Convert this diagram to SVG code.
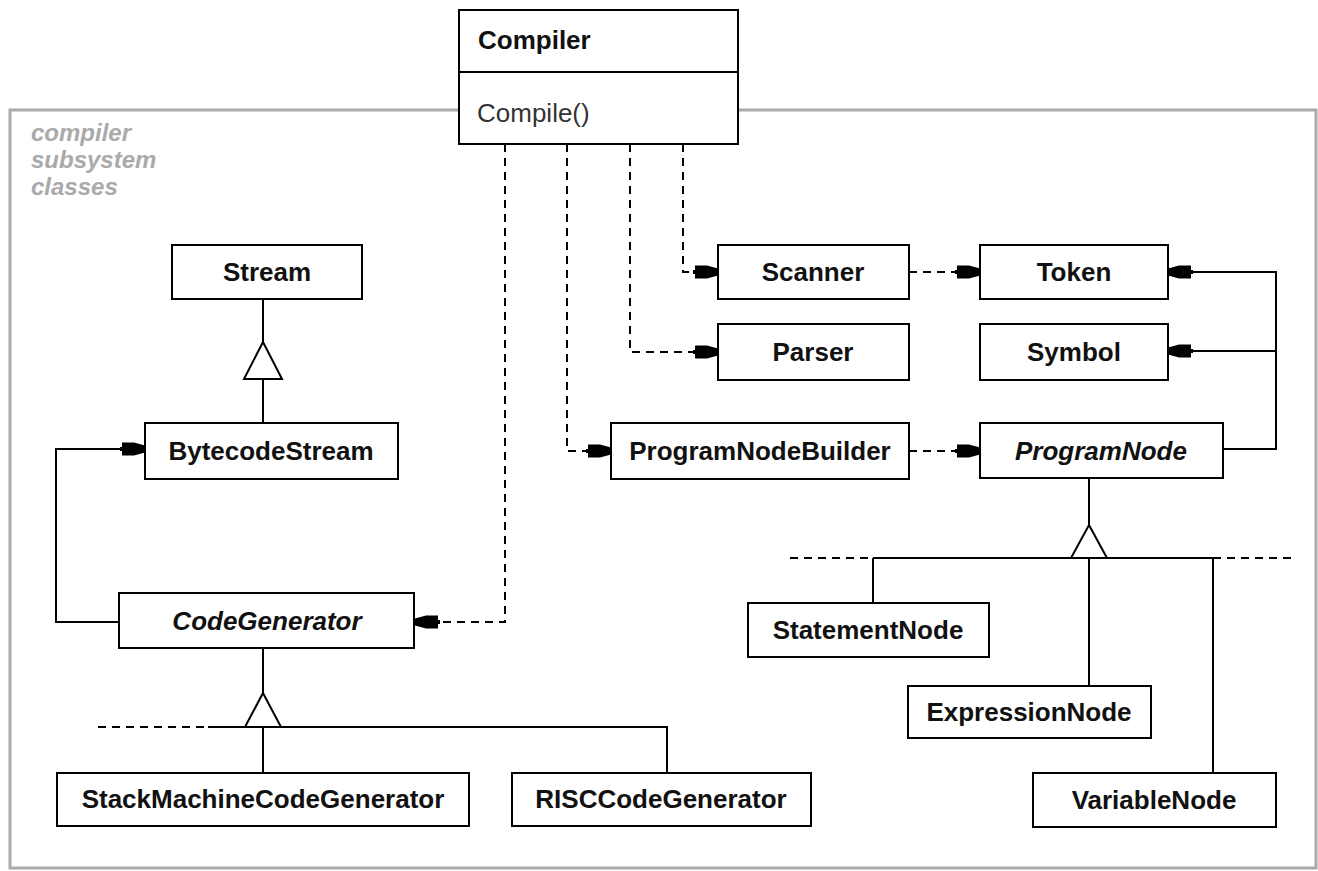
<svg xmlns="http://www.w3.org/2000/svg" width="1318" height="871" viewBox="0 0 1318 871">
<style>
.box{fill:#fff;stroke:#000;stroke-width:2}
.lbl{font-family:"Liberation Sans",Arial,sans-serif;font-size:26px;font-weight:bold;fill:#111;text-anchor:middle}
.abs{font-style:italic}
.ln{fill:none;stroke:#000;stroke-width:2}
.dash{fill:none;stroke:#000;stroke-width:2;stroke-dasharray:8 6}
.tri{fill:#fff;stroke:#000;stroke-width:2}
.note{font-family:"Liberation Sans",Arial,sans-serif;font-size:24px;font-weight:bold;font-style:italic;fill:#aaa}
</style>
<defs>
<marker id="assoc" markerUnits="userSpaceOnUse" viewBox="-26 -8 27 16" markerWidth="27" markerHeight="16" refX="0" refY="0" orient="auto">
<path d="M0,-3.5 L-11,-6.5 L-23,-6.5 L-23,-2 L-25,-2 L-25,2 L-23,2 L-23,6.5 L-11,6.5 L0,3.5 Z" fill="#000"/>
</marker>
</defs>
<rect x="0" y="0" width="1318" height="871" fill="#fff"/>
<g id="subsystem-frame">
<rect x="10" y="110" width="1306" height="758" fill="none" stroke="#aaa" stroke-width="3"/>
<text class="note" x="31" y="141">compiler</text>
<text class="note" x="31" y="168">subsystem</text>
<text class="note" x="31" y="195">classes</text>
</g>
<g id="connectors">
<path class="dash" d="M683,144 V272 H718" marker-end="url(#assoc)"/>
<path class="dash" d="M630,144 V352 H718" marker-end="url(#assoc)"/>
<path class="dash" d="M567,144 V451 H611" marker-end="url(#assoc)"/>
<path class="dash" d="M505,144 V622 H415" marker-end="url(#assoc)"/>
<path class="dash" d="M909,272 H980" marker-end="url(#assoc)"/>
<path class="dash" d="M909,451 H980" marker-end="url(#assoc)"/>
<path class="ln" d="M1223,449 H1276 V272 H1168" marker-end="url(#assoc)"/>
<path class="ln" d="M1276,351 H1168" marker-end="url(#assoc)"/>
<path class="ln" d="M119,622 H56 V449 H145" marker-end="url(#assoc)"/>
<path class="ln" d="M263,299 V342 M263,379 V423"/>
<path class="ln" d="M263,648 V693 M208,727 H667 V773 M263,727 V773"/>
<path class="dash" d="M98,727 H208"/>
<path class="ln" d="M1089,478 V525 M873,558 H1213 M873,558 V603 M1089,558 V686 M1213,558 V773"/>
<path class="dash" d="M790,558 H873 M1213,558 H1297"/>
<polygon class="tri" points="263,342 282,379 244,379"/>
<polygon class="tri" points="263,693 281,727 245,727"/>
<polygon class="tri" points="1089,525 1107,558 1071,558"/>
</g>
<g id="Compiler">
<rect class="box" x="459" y="10" width="279" height="134"/>
<line x1="459" y1="72" x2="738" y2="72" stroke="#000" stroke-width="2"/>
<text class="lbl" x="478" y="49" style="text-anchor:start">Compiler</text>
<text x="477" y="122" font-family="Liberation Sans, Arial, sans-serif" font-size="26" fill="#333">Compile()</text>
</g>
<g id="Stream"><rect class="box" x="172" y="245" width="190" height="54"/><text class="lbl" x="267" y="281">Stream</text></g>
<g id="BytecodeStream"><rect class="box" x="145" y="423" width="253" height="56"/><text class="lbl" x="271" y="460">BytecodeStream</text></g>
<g id="CodeGenerator"><rect class="box" x="119" y="593" width="295" height="55"/><text class="lbl abs" x="267" y="630">CodeGenerator</text></g>
<g id="StackMachineCodeGenerator"><rect class="box" x="57" y="773" width="412" height="53"/><text class="lbl" x="263" y="808">StackMachineCodeGenerator</text></g>
<g id="RISCCodeGenerator"><rect class="box" x="512" y="773" width="299" height="53"/><text class="lbl" x="661" y="808">RISCCodeGenerator</text></g>
<g id="Scanner"><rect class="box" x="718" y="245" width="191" height="54"/><text class="lbl" x="813" y="281">Scanner</text></g>
<g id="Parser"><rect class="box" x="718" y="324" width="191" height="56"/><text class="lbl" x="813" y="361">Parser</text></g>
<g id="ProgramNodeBuilder"><rect class="box" x="611" y="423" width="298" height="56"/><text class="lbl" x="760" y="460">ProgramNodeBuilder</text></g>
<g id="Token"><rect class="box" x="980" y="245" width="188" height="54"/><text class="lbl" x="1074" y="281">Token</text></g>
<g id="Symbol"><rect class="box" x="980" y="324" width="188" height="56"/><text class="lbl" x="1074" y="361">Symbol</text></g>
<g id="ProgramNode"><rect class="box" x="980" y="423" width="243" height="55"/><text class="lbl abs" x="1101" y="460">ProgramNode</text></g>
<g id="StatementNode"><rect class="box" x="748" y="603" width="241" height="54"/><text class="lbl" x="868" y="639">StatementNode</text></g>
<g id="ExpressionNode"><rect class="box" x="908" y="686" width="243" height="52"/><text class="lbl" x="1029" y="721">ExpressionNode</text></g>
<g id="VariableNode"><rect class="box" x="1033" y="773" width="243" height="54"/><text class="lbl" x="1154" y="809">VariableNode</text></g>
</svg>
